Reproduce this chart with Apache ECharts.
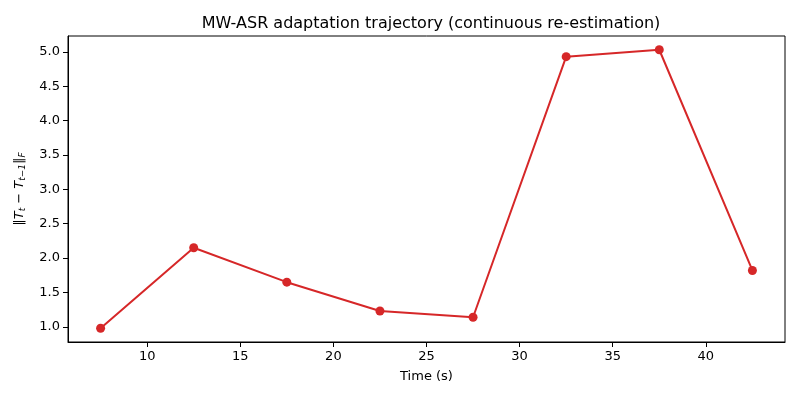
<!DOCTYPE html>
<html>
<head>
<meta charset="utf-8">
<script src="https://cdn.jsdelivr.net/npm/echarts@6/dist/echarts.min.js"></script>
<style>
  html, body { margin: 0; padding: 0; background: #fff; }
  #chart { width: 800px; height: 400px; }
</style>
</head>
<body>
<div id="chart"></div>
<script>
// data
const times = [7.5, 12.5, 17.5, 22.5, 27.5, 32.5, 37.5, 42.5];
const changes = [0.98, 2.15, 1.65, 1.23, 1.14, 4.93, 5.03, 1.82];
const xTicks = [10, 15, 20, 25, 30, 35, 40];
const yTicks = [1.0, 1.5, 2.0, 2.5, 3.0, 3.5, 4.0, 4.5, 5.0];

const font = 'DejaVu Sans';
const red = '#d62728';

let myChart = echarts.init(document.getElementById('chart'), null, { renderer: 'canvas' });

let option = {
  backgroundColor: '#fff',
  animation: false,
  title: {
    text: 'MW-ASR adaptation trajectory (continuous re-estimation)',
    left: 426,
    textAlign: 'center',
    top: 11,
    textStyle: { fontFamily: font, fontSize: 16, fontWeight: 'normal', color: '#000' }
  },
  grid: {
    left: 68,
    right: 15,
    top: 36,
    bottom: 58,
    show: true,
    borderColor: '#000',
    borderWidth: 1
  },
  xAxis: {
    type: 'value',
    min: 5.75,
    max: 44.25,
    name: 'Time (s)',
    nameLocation: 'middle',
    nameGap: 28,
    nameTextStyle: { fontFamily: font, fontSize: 13, color: '#000' },
    axisLine: { show: true, onZero: false, lineStyle: { color: '#000', width: 1 } },
    axisTick: { show: true, length: 5, customValues: xTicks, lineStyle: { color: '#000' } },
    axisLabel: {
      customValues: xTicks,
      fontFamily: font, fontSize: 13, color: '#000', margin: 8
    },
    splitLine: { show: false }
  },
  yAxis: {
    type: 'value',
    min: 0.78,
    max: 5.23,
    name: '‖{i|T}{s|t} − {i|T}{s|t−1}‖{s|F}',
    nameLocation: 'middle',
    nameGap: 41,
    nameRotate: 90,
    nameTextStyle: {
      fontFamily: font, fontSize: 13, color: '#000',
      rich: {
        i: { fontFamily: font, fontSize: 13, fontStyle: 'italic', color: '#000' },
        s: { fontFamily: font, fontSize: 9, fontStyle: 'italic', color: '#000', verticalAlign: 'bottom', padding: [6, 0, 0, 0] }
      }
    },
    axisLine: { show: true, onZero: false, lineStyle: { color: '#000', width: 1 } },
    axisTick: { show: true, length: 5, customValues: yTicks, lineStyle: { color: '#000' } },
    axisLabel: {
      customValues: yTicks,
      formatter: v => v.toFixed(1),
      fontFamily: font, fontSize: 13, color: '#000', margin: 8
    },
    splitLine: { show: false }
  },
  series: [
    {
      type: 'line',
      data: times.map((t, i) => [t, changes[i]]),
      symbol: 'circle',
      symbolSize: 9,
      itemStyle: { color: red },
      lineStyle: { color: red, width: 2 }
    }
  ]
};

myChart.setOption(option);
</script>
</body>
</html>
